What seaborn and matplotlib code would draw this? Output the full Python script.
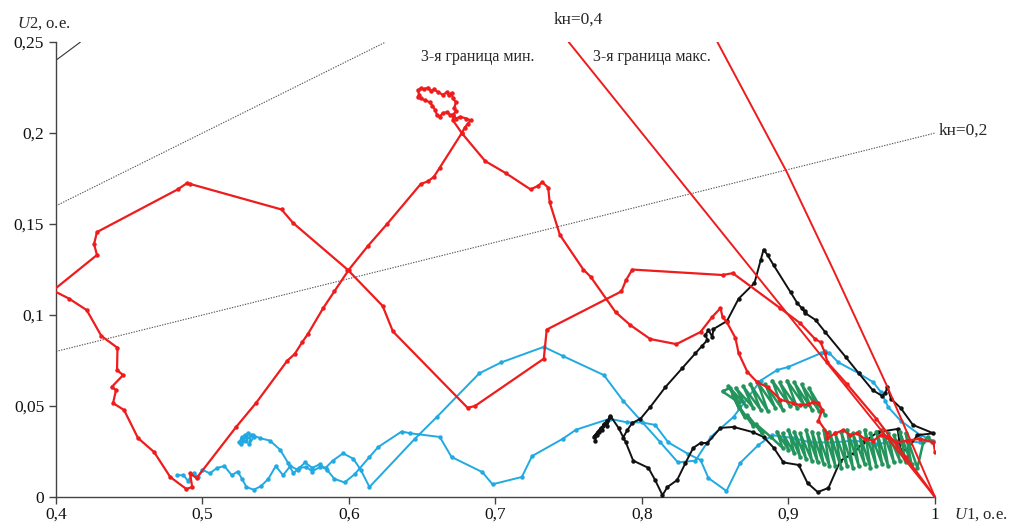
import matplotlib
matplotlib.use("Agg")
import matplotlib.pyplot as plt
import seaborn as sns
import pandas as pd

# ---------------- data ----------------
x_ticks = [0.4, 0.5, 0.6, 0.7, 0.8, 0.9, 1.0]
x_tick_labels = ["0,4", "0,5", "0,6", "0,7", "0,8", "0,9", "1"]
y_ticks = [0, 0.05, 0.1, 0.15, 0.2, 0.25]
y_tick_labels = ["0", "0,05", "0,1", "0,15", "0,2", "0,25"]

# reference lines (end points)
kn06_x = [0.4, 0.4167]
kn06_y = [0.24, 0.25]
kn04_x = [0.4, 0.625]
kn04_y = [0.16, 0.25]
kn02_x = [0.4, 1.0]
kn02_y = [0.08, 0.2]
bmin_x = [0.75, 1.0]
bmin_y = [0.25, 0.0]
bmax_x = [0.8515, 0.8986, 0.9307, 0.9676, 1.0]
bmax_y = [0.25, 0.179, 0.1247, 0.0604, 0.0]

# red trajectory
red_x = [1.0, 0.98, 0.96, 0.94, 0.9266, 0.925, 0.922, 0.918, 0.908, 0.894, 0.862, 0.855,
         0.7934, 0.789, 0.786, 0.735, 0.733, 0.686, 0.681, 0.630, 0.623, 0.599, 0.562, 0.554,
         0.4915, 0.4895, 0.483, 0.428, 0.426, 0.428, 0.398,
         0.409, 0.421, 0.431, 0.442, 0.4417, 0.4458, 0.438, 0.441, 0.439, 0.4465, 0.456,
         0.467, 0.478, 0.489, 0.493, 0.4915, 0.496, 0.523, 0.5366, 0.558, 0.563, 0.568,
         0.572, 0.5824, 0.59, 0.6, 0.613, 0.626, 0.649, 0.654, 0.658, 0.662, 0.677, 0.679,
         0.681, 0.683, 0.680, 0.676, 0.673, 0.671, 0.673, 0.672, 0.673, 0.671, 0.670, 0.668,
         0.667, 0.664, 0.661, 0.658, 0.656, 0.654, 0.651, 0.649, 0.647, 0.648, 0.647, 0.649,
         0.652, 0.655, 0.657, 0.659, 0.660, 0.662, 0.664, 0.667, 0.669, 0.671, 0.671,
         0.677, 0.693, 0.707, 0.724, 0.729, 0.732, 0.736, 0.737,
         0.744, 0.76, 0.765, 0.782, 0.792, 0.8057, 0.8235, 0.840, 0.848, 0.8536, 0.855,
         0.858, 0.8638, 0.866, 0.872, 0.8788, 0.8857, 0.8945, 0.903, 0.908, 0.9136, 0.917,
         0.9205, 0.923, 0.9205, 0.9266, 0.9266, 0.932, 0.9375, 0.942, 0.947, 0.952, 0.958,
         0.963, 0.9676, 0.974, 0.981, 0.99, 0.999, 1.0]
red_y = [0.0, 0.022, 0.043, 0.062, 0.074, 0.079, 0.085, 0.087, 0.0955, 0.104, 0.123, 0.122,
         0.125, 0.119, 0.113, 0.092, 0.076, 0.050, 0.049, 0.091, 0.105, 0.125, 0.1505, 0.158,
         0.172, 0.1725, 0.169, 0.1456, 0.139, 0.133, 0.1135,
         0.109, 0.1027, 0.0885, 0.082, 0.0698, 0.067, 0.0604, 0.0588, 0.0516, 0.0478, 0.0324,
         0.0247, 0.011, 0.0044, 0.0055, 0.013, 0.0104, 0.0385, 0.0517, 0.075, 0.0786, 0.085,
         0.0896, 0.1038, 0.113, 0.125, 0.138, 0.15, 0.172, 0.1735, 0.176, 0.181, 0.2, 0.203,
         0.205, 0.207, 0.208, 0.209, 0.208, 0.210, 0.212, 0.214, 0.217, 0.219, 0.222, 0.221,
         0.2225, 0.221, 0.2225, 0.224, 0.223, 0.225, 0.224, 0.2245, 0.2235, 0.221, 0.220, 0.219,
         0.218, 0.217, 0.215, 0.2125, 0.210, 0.209, 0.211, 0.2115, 0.210, 0.21, 0.207,
         0.2, 0.1846, 0.178, 0.169, 0.171, 0.173, 0.170, 0.162,
         0.144, 0.125, 0.121, 0.1016, 0.0945, 0.0868, 0.084, 0.0907, 0.099, 0.1038, 0.099,
         0.096, 0.0874, 0.079, 0.0687, 0.063, 0.0604, 0.0535, 0.0516, 0.0505, 0.051, 0.052,
         0.0516, 0.048, 0.042, 0.035, 0.0324, 0.035, 0.0368, 0.034, 0.035, 0.032, 0.031,
         0.034, 0.033, 0.030, 0.031, 0.032, 0.030, 0.025]

# blue trajectory
blue_x = [0.525, 0.527, 0.526, 0.529, 0.528, 0.531, 0.530, 0.533, 0.532, 0.535, 0.5346,
          0.539, 0.546, 0.553, 0.5585, 0.562, 0.566, 0.571, 0.575, 0.58, 0.584, 0.589, 0.596,
          0.603, 0.608, 0.614, 0.645, 0.66, 0.689, 0.704, 0.733, 0.746, 0.774, 0.787, 0.8126,
          0.8246, 0.8365, 0.847, 0.8625, 0.881, 0.8923, 0.9, 0.922, 0.925, 0.928, 0.934, 0.948,
          0.958, 0.963, 0.966, 0.968, 0.9765, 0.99, 0.999,
          0.99, 0.975, 0.96, 0.945, 0.93, 0.915, 0.9034, 0.889, 0.8795, 0.867, 0.8577, 0.8454,
          0.84, 0.8317, 0.818, 0.809, 0.8, 0.79, 0.778, 0.755, 0.746, 0.725, 0.718, 0.698,
          0.691, 0.670, 0.662, 0.642, 0.636, 0.62, 0.614, 0.604, 0.597, 0.59, 0.585, 0.58,
          0.575, 0.57, 0.565, 0.56, 0.555, 0.55, 0.545, 0.54, 0.535, 0.53, 0.527, 0.524, 0.52,
          0.515, 0.51, 0.505, 0.5, 0.497, 0.494, 0.49, 0.487, 0.4826]
blue_y = [0.030, 0.033, 0.029, 0.034, 0.031, 0.035, 0.031, 0.034, 0.029, 0.033, 0.034,
          0.0324, 0.031, 0.026, 0.0187, 0.013, 0.016, 0.0165, 0.014, 0.0165, 0.016, 0.020, 0.024,
          0.021, 0.015, 0.0055, 0.032, 0.044, 0.068, 0.074, 0.0825, 0.0775, 0.067, 0.053, 0.030,
          0.019, 0.020, 0.033, 0.044, 0.064, 0.0698, 0.0715, 0.079, 0.080, 0.079, 0.074, 0.068,
          0.063, 0.0577, 0.053, 0.0495, 0.042, 0.034, 0.031,
          0.030, 0.031, 0.029, 0.031, 0.030, 0.030, 0.0324, 0.034, 0.0286, 0.0187, 0.0033, 0.0104,
          0.0203, 0.0236, 0.030, 0.0396, 0.041, 0.041, 0.043, 0.037, 0.032, 0.0225, 0.011, 0.007,
          0.0137, 0.022, 0.033, 0.035, 0.036, 0.0275, 0.022, 0.0126, 0.008, 0.010, 0.015, 0.018,
          0.016, 0.019, 0.015, 0.017, 0.012, 0.017, 0.010, 0.006, 0.004, 0.0055, 0.010, 0.014, 0.012,
          0.017, 0.016, 0.013, 0.015, 0.011, 0.013, 0.009, 0.012, 0.012]

# black trajectory
black_x = [0.768, 0.770, 0.767, 0.772, 0.769, 0.774, 0.771, 0.776, 0.773, 0.778, 0.776, 0.7785,
           0.784, 0.789, 0.794, 0.8044, 0.809, 0.814, 0.8174, 0.824, 0.8297, 0.835, 0.84, 0.8447,
           0.8536, 0.8625, 0.8755, 0.883, 0.890, 0.8966, 0.907, 0.913, 0.92, 0.9273, 0.9355,
           0.9444, 0.951, 0.961, 0.9745, 0.9765, 0.981, 0.988, 0.999,
           0.985, 0.9765, 0.97, 0.9676, 0.966, 0.964, 0.9574, 0.948, 0.939, 0.925, 0.9185,
           0.9116, 0.909, 0.911, 0.906, 0.9014, 0.8898, 0.8857, 0.883, 0.881, 0.8768, 0.866,
           0.858, 0.8488, 0.848, 0.8454, 0.8433, 0.8447, 0.841, 0.8365, 0.8276, 0.816, 0.8057,
           0.799, 0.7934, 0.790, 0.787]
black_y = [0.031, 0.036, 0.033, 0.038, 0.034, 0.040, 0.036, 0.042, 0.037, 0.044, 0.039, 0.0445,
           0.038, 0.030, 0.020, 0.016, 0.0093, 0.001, 0.0055, 0.0093, 0.0187, 0.027, 0.0297, 0.0297,
           0.038, 0.0385, 0.0357, 0.033, 0.027, 0.019, 0.0176, 0.0077, 0.0027, 0.005, 0.020,
           0.024, 0.030, 0.0357, 0.0374, 0.026, 0.026, 0.034, 0.035,
           0.0396, 0.049, 0.054, 0.0604, 0.057, 0.0555, 0.0588, 0.068, 0.077, 0.0907, 0.0973,
           0.101, 0.104, 0.102, 0.1066, 0.1126, 0.1275, 0.133, 0.136, 0.130, 0.1176, 0.109,
           0.0967, 0.0923, 0.088, 0.0918, 0.089, 0.0863, 0.083, 0.079, 0.0709, 0.0604, 0.0495,
           0.043, 0.0407, 0.0368, 0.0324]

# green trajectory
green_x = [0.925, 0.914, 0.921, 0.909, 0.916, 0.904, 0.911, 0.899, 0.906, 0.894, 0.901,
           0.889, 0.896, 0.884, 0.891, 0.879, 0.886, 0.874, 0.881, 0.869, 0.876, 0.864,
           0.871, 0.859, 0.866, 0.855, 0.860,
           0.866, 0.862, 0.870, 0.866, 0.876, 0.872, 0.882, 0.878, 0.888,
           0.896, 0.892, 0.900, 0.896, 0.904, 0.900, 0.908, 0.904, 0.912, 0.908, 0.916,
           0.912, 0.920, 0.916, 0.924, 0.920, 0.928, 0.924, 0.932, 0.928, 0.936, 0.932,
           0.940, 0.936, 0.944, 0.940, 0.948, 0.944, 0.952, 0.948, 0.956, 0.952, 0.960,
           0.956, 0.964, 0.960, 0.968, 0.964, 0.972, 0.968, 0.976, 0.972, 0.980, 0.976,
           0.984, 0.980, 0.988, 0.992, 0.995, 0.998]
green_y = [0.045, 0.060, 0.047, 0.062, 0.048, 0.063, 0.050, 0.064, 0.049, 0.063, 0.050,
           0.064, 0.048, 0.062, 0.049, 0.063, 0.047, 0.062, 0.048, 0.061, 0.049, 0.060,
           0.050, 0.061, 0.052, 0.058, 0.060,
           0.049, 0.056, 0.044, 0.050, 0.039, 0.045, 0.035, 0.040, 0.033,
           0.027, 0.036, 0.026, 0.035, 0.024, 0.037, 0.022, 0.036, 0.021, 0.035, 0.020,
           0.037, 0.019, 0.036, 0.018, 0.035, 0.017, 0.037, 0.017, 0.036, 0.016, 0.035,
           0.017, 0.036, 0.016, 0.037, 0.017, 0.035, 0.018, 0.036, 0.016, 0.037, 0.017,
           0.035, 0.018, 0.036, 0.017, 0.037, 0.019, 0.035, 0.020, 0.034, 0.019, 0.036,
           0.018, 0.035, 0.016, 0.030, 0.033, 0.030]

RED = "#ee1c1c"
BLUE = "#21a9e1"
BLACK = "#111111"
GREEN = "#23955c"

# ---------------- plot ----------------
sns.set_theme(style="white")
plt.rcParams["font.family"] = ["Liberation Serif", "DejaVu Serif"]
plt.rcParams["mathtext.fontset"] = "custom"
plt.rcParams["mathtext.rm"] = "Liberation Serif"
plt.rcParams["mathtext.it"] = "Liberation Serif:italic"

fig, ax = plt.subplots(figsize=(10.1, 5.26), dpi=100)
fig.subplots_adjust(left=0.0554, right=0.9257, bottom=0.0551, top=0.920)

# reference lines
ax.plot(kn06_x, kn06_y, color="#333333", lw=0.8, zorder=1)
ax.plot(kn04_x, kn04_y, color="#555555", lw=0.8, ls=(0, (1.2, 1.2)), zorder=1)
ax.plot(kn02_x, kn02_y, color="#555555", lw=0.8, ls=(0, (1.2, 1.2)), zorder=1)
ax.plot(bmin_x, bmin_y, color=RED, lw=1.4, zorder=5)
ax.plot(bmax_x, bmax_y, color=RED, lw=1.4, zorder=5)

series = [
    (blue_x, blue_y, BLUE, 1.4, 2),
    (black_x, black_y, BLACK, 1.4, 3),
    (green_x, green_y, GREEN, 1.8, 4),
    (red_x, red_y, RED, 1.6, 6),
]
for xs, ys, col, lw, z in series:
    df = pd.DataFrame({"U1": xs, "U2": ys})
    sns.lineplot(data=df, x="U1", y="U2", sort=False, estimator=None, ax=ax,
                 color=col, lw=lw, marker="o", markersize=3.2,
                 markeredgewidth=0, zorder=z)

ax.set_xlim(0.4, 1.0)
ax.set_ylim(0, 0.25)
ax.set_xticks(x_ticks)
ax.set_xticklabels(x_tick_labels)
ax.set_yticks(y_ticks)
ax.set_yticklabels(y_tick_labels)
ax.set_xlabel("")
ax.set_ylabel("")
for s in ["top", "right"]:
    ax.spines[s].set_visible(False)
for s in ["left", "bottom"]:
    ax.spines[s].set_color("#444444")
    ax.spines[s].set_linewidth(1.0)
ax.tick_params(axis="both", which="major", direction="out", length=5, width=1,
               color="#444444", labelsize=12.5, labelcolor="#111111",
               bottom=True, left=True)
ax.tick_params(axis="x", pad=2)
ax.tick_params(axis="y", pad=3.5)

# texts
ax.text(0.3734, 0.2604, "$\\mathit{U}$2, о.е.", fontsize=12, ha="left", va="center",
        clip_on=False)
ax.text(1.013, -0.0095, "$\\mathit{U}$1, о.е.", fontsize=12, ha="left", va="center",
        clip_on=False)
ax.text(0.7566, 0.2625, "kн=0,4", fontsize=12.5, ha="center", va="center", clip_on=False)
ax.text(1.0025, 0.2016, "kн=0,2", fontsize=12.5, ha="left", va="center", clip_on=False)
ax.text(0.6876, 0.2418, "3-я граница мин.", fontsize=11.5, ha="center", va="center")
ax.text(0.8071, 0.2418, "3-я граница макс.", fontsize=11.5, ha="center", va="center")

fig.savefig("out.png", dpi=100, facecolor="white")
